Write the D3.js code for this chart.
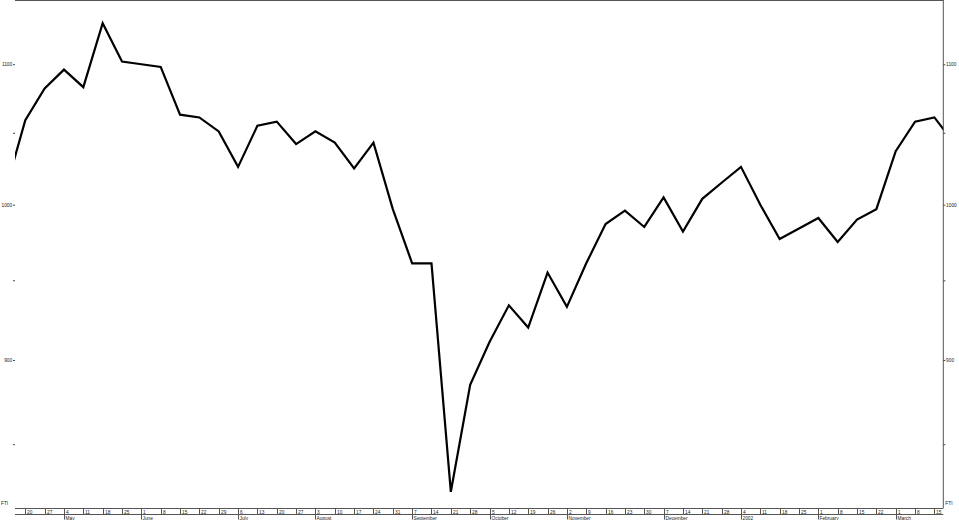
<!DOCTYPE html>
<html><head><meta charset="utf-8">
<script src="https://cdn.jsdelivr.net/npm/d3@7/dist/d3.min.js"></script>
<style>body{margin:0;background:#fff}svg{display:block}text{font-family:"Liberation Sans",Arial,sans-serif}</style>
</head><body><svg id="c" width="959" height="520"></svg>
<script>
// Weekly closes (Fridays)
const dates = ["2001-04-13","2001-04-20","2001-04-27","2001-05-04","2001-05-11","2001-05-18","2001-05-25",
"2001-06-01","2001-06-08","2001-06-15","2001-06-22","2001-06-29","2001-07-06","2001-07-13","2001-07-20","2001-07-27",
"2001-08-03","2001-08-10","2001-08-17","2001-08-24","2001-08-31","2001-09-07","2001-09-14","2001-09-21","2001-09-28",
"2001-10-05","2001-10-12","2001-10-19","2001-10-26","2001-11-02","2001-11-09","2001-11-16","2001-11-23","2001-11-30",
"2001-12-07","2001-12-14","2001-12-21","2001-12-28","2002-01-04","2002-01-11","2002-01-18","2002-01-25",
"2002-02-01","2002-02-08","2002-02-15","2002-02-22","2002-03-01","2002-03-08","2002-03-15","2002-03-22"];
const values = [1011,1059,1082,1096,1083,1131,1102,
1100,1098,1063,1061,1051,1026,1055,1058,1042,
1051,1043,1025,1043,997,961,961,823,885,
911,934,920,955,933,961,987,996,985,
1005,982,1004,1015,1026,1000,977,984,
991,975,990,997,1037,1058,1061,1043];
const yTicksMajor = [900,1000,1100];
const yTicksMinor = [850,950,1050];
const monthLabels = {"2001-05-04":"May","2001-06-01":"June","2001-07-06":"July","2001-08-03":"August",
"2001-09-07":"September","2001-10-05":"October","2001-11-02":"November","2001-12-07":"December",
"2002-01-04":"2002","2002-02-01":"February","2002-03-01":"March"};
const cornerLabel = "FTI";

const svg = d3.select("#c");
const L = 15, R = 943.3, T = 0, B = 508;
const FS = "4.8px";
const parse = d3.utcParse("%Y-%m-%d");
const data = dates.map((d,i)=>({date:parse(d), key:d, v:values[i]}));

const x = d3.scaleUtc().domain([parse("2001-04-20"), parse("2002-03-15")]).range([25.3, 934.4]);
const y = d3.scaleLog().domain([814, 1149]).range([B, T]);

svg.append("defs").append("clipPath").attr("id","clip")
  .append("rect").attr("x",L).attr("y",T).attr("width",R-L).attr("height",B-T);

// frame
svg.append("line").attr("x1",L).attr("x2",R).attr("y1",0.5).attr("y2",0.5).attr("stroke","#555").attr("stroke-width",1);
svg.append("line").attr("x1",R).attr("x2",R).attr("y1",0).attr("y2",B).attr("stroke","#555").attr("stroke-width",1);

// y axes
const allTicks = yTicksMajor.concat(yTicksMinor);
const left = svg.append("g").attr("transform",`translate(${L},0)`)
  .call(d3.axisLeft(y).tickValues(allTicks).tickSize(2).tickPadding(0.8)
    .tickFormat(d=>yTicksMajor.includes(d)?d:""));
const right = svg.append("g").attr("transform",`translate(${R},0)`)
  .call(d3.axisRight(y).tickValues(allTicks).tickSize(2).tickPadding(0.8)
    .tickFormat(d=>yTicksMajor.includes(d)?d:""));
[left,right].forEach(g=>{
  g.select(".domain").remove();
  g.selectAll("line").attr("stroke","#444");
  g.selectAll("text").attr("font-size",FS).attr("fill","#222");
});

// date axis band
const band = svg.append("g");
band.append("line").attr("x1",L).attr("x2",R).attr("y1",B+0.5).attr("y2",B+0.5).attr("stroke","#555");
band.append("line").attr("x1",L).attr("x2",R).attr("y1",B+6.5).attr("y2",B+6.5).attr("stroke","#555");
const visible = data.filter(d=>x(d.date)>=L && x(d.date)<=R);
visible.forEach(d=>{
  const px = Math.round(x(d.date))+0.5;
  band.append("line").attr("x1",px).attr("x2",px).attr("y1",B).attr("y2",B+7).attr("stroke","#555");
  band.append("text").attr("x",px+1.5).attr("y",B+5.5).attr("font-size",FS).attr("fill","#222")
    .text(d.date.getUTCDate());
  if (monthLabels[d.key]) {
    band.append("line").attr("x1",px).attr("x2",px).attr("y1",B+7).attr("y2",B+11.5).attr("stroke","#555");
    band.append("text").attr("x",px+1).attr("y",B+11.5).attr("font-size",FS).attr("fill","#222")
      .text(monthLabels[d.key]);
  }
});
svg.append("text").attr("x",1).attr("y",B-3).attr("font-size",FS).attr("fill","#222").text(cornerLabel);
svg.append("text").attr("x",R+2).attr("y",B-3).attr("font-size",FS).attr("fill","#222").text(cornerLabel);

// line
const line = d3.line().x(d=>x(d.date)).y(d=>y(d.v));
svg.append("path").datum(data).attr("clip-path","url(#clip)")
  .attr("d",line).attr("fill","none").attr("stroke","#000").attr("stroke-width",2.2)
  .attr("stroke-linejoin","miter");
</script></body></html>
